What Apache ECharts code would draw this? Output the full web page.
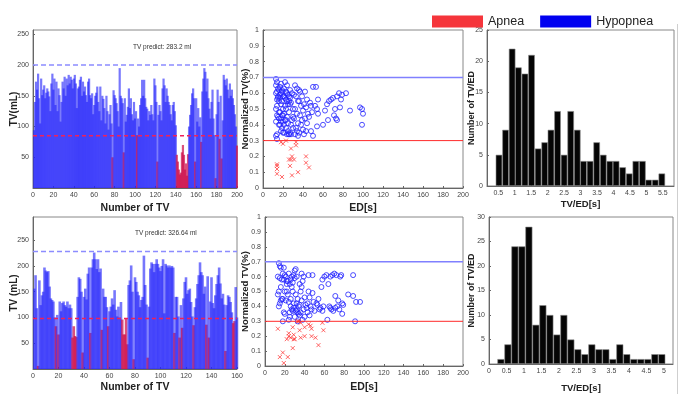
<!DOCTYPE html>
<html>
<head>
<meta charset="utf-8">
<script src="https://cdn.jsdelivr.net/npm/echarts@6/dist/echarts.min.js"></script>
<style>
  html, body { margin: 0; padding: 0; background: #fff; }
  #chart { width: 683px; height: 394px; }
</style>
</head>
<body>
<div id="chart"></div>
<script>
// ---- data ----
// tidal volume per breath (mL), top recording, x = 1..200
const tvTop = [
  94, 140, 173, 160, 186, 146, 105, 178, 151, 160,
  167, 146, 155, 162, 157, 149, 125, 170, 186, 160,
  178, 135, 173, 125, 162, 151, 108, 140, 173, 162,
  181, 150, 178, 167, 184, 170, 181, 176, 162, 178,
  184, 170, 130, 162, 165, 176, 181, 150, 173, 157,
  165, 151, 140, 173, 178, 151, 146, 154, 120, 135,
  150, 155, 165, 140, 125, 165, 110, 150, 145, 130,
  105, 150, 125, 95, 120, 135, 105, 50, 159, 151,
  146, 138, 125, 100, 195, 150, 146, 138, 58, 146,
  108, 119, 132, 162, 130, 146, 120, 110, 140, 113,
  125, 86, 113, 100, 135, 146, 176, 150, 176, 146,
  132, 129, 110, 125, 119, 135, 120, 110, 178, 167,
  140, 43, 119, 135, 125, 110, 162, 178, 167, 140,
  162, 150, 140, 135, 120, 110, 135, 140, 125, 102,
  54, 43, 30, 22, 25, 58, 70, 54, 30, 40,
  20, 55, 100, 119, 135, 154, 162, 146, 43, 146,
  108, 130, 100, 115, 75, 157, 178, 195, 189, 157,
  178, 146, 129, 113, 140, 160, 113, 86, 16, 120,
  160, 140, 80, 150, 48, 110, 184, 176, 167, 178,
  160, 146, 170, 150, 160, 146, 135, 120, 100, 69
];
// breath numbers flagged as apnea (red)
const apneaTop = [78, 89, 102, 122, 141, 142, 143, 144, 145, 146, 147, 148, 149, 150, 151, 152, 159, 165, 179, 183, 185, 200];

// bottom recording, x = 1..160
const tvBottom = [
  156, 182, 118, 6, 172, 124, 143, 150, 197, 191,
  188, 190, 160, 137, 134, 131, 100, 83, 105, 67,
  131, 112, 128, 131, 124, 121, 131, 118, 125, 118,
  61, 83, 64, 62, 140, 178, 175, 150, 32, 140,
  156, 135, 185, 197, 70, 197, 213, 226, 213, 194,
  213, 188, 195, 76, 156, 140, 140, 120, 83, 112,
  121, 137, 125, 153, 115, 102, 121, 100, 130, 96,
  67, 67, 99, 48, 163, 172, 201, 150, 19, 178,
  169, 150, 143, 120, 134, 140, 220, 163, 125, 22,
  121, 195, 207, 204, 188, 204, 213, 204, 197, 190,
  200, 213, 108, 204, 201, 197, 201, 197, 200, 197,
  70, 140, 140, 102, 61, 124, 80, 137, 169, 178,
  146, 153, 156, 130, 102, 85, 120, 137, 165, 182,
  207, 188, 182, 146, 160, 86, 180, 61, 131, 178,
  128, 118, 143, 165, 182, 197, 166, 137, 146, 125,
  35, 124, 143, 140, 130, 110, 89, 93, 159, 100
];
const apneaBottom = [4, 18, 20, 31, 32, 33, 34, 39, 45, 54, 59, 70, 71, 72, 73, 74, 79, 90, 111, 115, 117, 126, 136, 138, 151, 157, 158];

const predictTop = 'TV predict: 283.2 ml';
const predictBottom = 'TV predict: 326.64 ml';
const upperTop = 200, lowerTop = 85;
const upperBottom = 228, lowerBottom = 98;
const normUpper = 0.7, normLower = 0.3;

// normalized TV vs event duration, [ED s, TV]
const hypoTop = [
  [13, 0.69], [14, 0.67], [13, 0.65], [15, 0.63], [14, 0.61], [13, 0.60], [15, 0.58], [14, 0.56], [16, 0.55], [14, 0.52],
  [13, 0.50], [14, 0.46], [15, 0.45], [13, 0.42], [16, 0.40], [14, 0.34], [13, 0.33], [14, 0.31],
  [18, 0.66], [17, 0.64], [19, 0.62], [18, 0.60], [20, 0.58], [17, 0.57], [19, 0.55], [18, 0.53], [20, 0.50], [17, 0.48],
  [19, 0.46], [18, 0.44], [20, 0.42], [17, 0.40], [19, 0.38], [18, 0.36], [20, 0.35],
  [22, 0.67], [24, 0.65], [21, 0.63], [23, 0.61], [25, 0.59], [22, 0.57], [24, 0.55], [25, 0.53], [23, 0.50], [21, 0.47],
  [24, 0.45], [22, 0.43], [25, 0.41], [23, 0.38], [21, 0.35], [24, 0.34],
  [27, 0.62], [29, 0.60], [26, 0.55], [28, 0.54], [27, 0.53], [30, 0.50], [26, 0.48], [29, 0.43], [28, 0.40], [27, 0.35], [26, 0.34],
  [32, 0.65], [34, 0.63], [31, 0.59], [33, 0.58], [35, 0.55], [32, 0.50], [34, 0.47], [31, 0.44], [35, 0.41], [33, 0.38],
  [34, 0.36], [32, 0.34], [35, 0.33],
  [37, 0.61], [39, 0.58], [36, 0.55], [38, 0.52], [40, 0.49], [37, 0.46], [39, 0.43], [38, 0.40], [40, 0.37], [36, 0.35],
  [42, 0.61], [44, 0.56], [41, 0.53], [43, 0.51], [45, 0.47], [42, 0.44], [44, 0.41], [43, 0.36], [41, 0.34],
  [47, 0.54], [48, 0.52], [49, 0.48], [46, 0.45], [48, 0.36], [50, 0.33], [50, 0.64],
  [53, 0.64], [52, 0.52], [54, 0.50], [55, 0.47], [54, 0.39], [55, 0.56],
  [60, 0.40], [62, 0.49], [64, 0.53], [66, 0.55], [65, 0.43],
  [68, 0.56], [70, 0.57], [71, 0.46], [73, 0.44], [72, 0.50], [74, 0.58], [76, 0.60], [77, 0.51], [79, 0.59], [78, 0.56], [74, 0.43],
  [83, 0.60], [87, 0.49], [97, 0.51], [99, 0.50], [100, 0.47], [99, 0.40],
  [16, 0.62], [15, 0.57], [17, 0.59], [19, 0.61], [21, 0.58], [23, 0.56], [22, 0.52], [20, 0.46], [16, 0.48], [18, 0.42],
  [21, 0.40], [23, 0.43], [25, 0.36], [26, 0.34], [28, 0.34], [30, 0.45], [30, 0.38], [36, 0.62], [24, 0.60], [26, 0.58],
  [27, 0.57], [16, 0.44]
];
const apneaPtsTop = [
  [18, 0.29], [20, 0.28], [23, 0.30], [28, 0.25], [33, 0.29], [33, 0.27], [14, 0.15], [14, 0.14], [14, 0.12], [14, 0.09],
  [19, 0.07], [26, 0.18], [28, 0.18], [31, 0.18], [29, 0.20], [27, 0.14], [29, 0.08], [35, 0.10], [43, 0.20], [43, 0.16], [46, 0.13]
];
const hypoBottom = [
  [14, 0.69], [15, 0.67], [16, 0.66], [13, 0.60], [15, 0.59], [17, 0.58], [16, 0.53], [14, 0.50], [13, 0.48], [16, 0.44], [15, 0.42], [14, 0.40],
  [19, 0.66], [18, 0.62], [20, 0.61], [21, 0.60], [19, 0.58], [22, 0.55], [20, 0.50], [18, 0.45], [21, 0.44], [19, 0.36], [20, 0.35], [18, 0.30],
  [24, 0.62], [26, 0.58], [23, 0.57], [25, 0.55], [27, 0.53], [28, 0.50], [24, 0.43], [26, 0.40], [27, 0.38], [25, 0.33], [24, 0.31],
  [31, 0.65], [30, 0.64], [32, 0.60], [30, 0.59], [31, 0.48], [33, 0.45], [32, 0.42], [29, 0.39], [31, 0.37], [34, 0.35], [30, 0.33], [33, 0.30],
  [37, 0.62], [39, 0.60], [38, 0.57], [37, 0.53], [36, 0.50], [35, 0.41], [39, 0.38], [36, 0.36], [40, 0.33], [38, 0.31], [40, 0.46],
  [44, 0.61], [44, 0.50], [43, 0.42], [46, 0.40], [42, 0.39], [47, 0.38], [45, 0.34], [49, 0.43], [48, 0.61], [48, 0.49], [50, 0.37],
  [52, 0.42], [53, 0.41], [55, 0.38], [57, 0.53], [54, 0.45], [58, 0.58], [59, 0.40], [56, 0.39], [58, 0.37], [60, 0.60],
  [62, 0.61], [64, 0.55], [66, 0.39], [67, 0.38], [66, 0.60], [68, 0.61], [70, 0.62], [65, 0.40], [63, 0.31], [71, 0.47], [69, 0.37],
  [72, 0.61], [74, 0.44], [73, 0.40], [75, 0.38], [77, 0.61], [76, 0.60], [78, 0.42], [78, 0.35], [79, 0.41], [71, 0.39],
  [84, 0.48], [89, 0.61], [89, 0.47], [91, 0.30], [92, 0.43], [96, 0.43],
  [22, 0.50], [23, 0.48], [26, 0.45], [28, 0.37], [29, 0.42], [32, 0.38], [33, 0.36], [35, 0.34], [34, 0.40], [17, 0.45],
  [22, 0.57], [28, 0.56], [29, 0.61], [35, 0.55], [41, 0.41], [43, 0.36], [45, 0.46], [37, 0.44], [25, 0.36], [27, 0.60]
];
const apneaPtsBottom = [
  [13, 0.25], [15, 0.06], [18, 0.09], [19, 0.02], [22, 0.18], [23, 0.06], [24, 0.22], [24, 0.20], [26, 0.19], [28, 0.26],
  [28, 0.12], [29, 0.18], [29, 0.21], [30, 0.18], [33, 0.30], [35, 0.24], [36, 0.29], [36, 0.19], [40, 0.26], [40, 0.20],
  [44, 0.28], [46, 0.27], [47, 0.25], [47, 0.20], [51, 0.19], [54, 0.14], [59, 0.24], [58, 0.29], [34, 0.30]
];

// histograms of TV/ED
const histTopBins = [0.52, 0.72, 0.92, 1.11, 1.31, 1.51, 1.71, 1.91, 2.10, 2.30, 2.50, 2.70, 2.90,
  3.09, 3.29, 3.49, 3.69, 3.89, 4.08, 4.28, 4.48, 4.68, 4.88, 5.07, 5.27, 5.47];
const histTopCounts = [5, 9, 22, 19, 18, 21, 6, 7, 9, 12, 5, 12, 9, 4, 4, 7, 5, 4, 4, 3, 2, 4, 4, 1, 1, 2];
const histTopTicks = [0.5, 1, 1.5, 2, 2.5, 3, 3.5, 4, 4.5, 5, 5.5];
const histBottomBins = [0.34, 0.54, 0.74, 0.94, 1.14, 1.34, 1.54, 1.74, 1.94, 2.14, 2.34, 2.54,
  2.74, 2.94, 3.14, 3.34, 3.54, 3.74, 3.94, 4.14, 4.34, 4.54, 4.74, 4.94];
const histBottomCounts = [1, 4, 24, 24, 28, 8, 12, 10, 6, 10, 5, 3, 2, 4, 3, 3, 1, 4, 2, 1, 1, 1, 2, 2];
const histBottomTicks = [0, 0.5, 1, 1.5, 2, 2.5, 3, 3.5, 4, 4.5, 5];

// ---- layout / style ----
const FONT = 'Liberation Sans, Arial, sans-serif';
const BLUE_BAR = 'rgba(35,35,250,0.62)';
const RED_BAR = 'rgba(205,15,75,0.72)';

const grids = [
  { left: 33, top: 30, width: 204, height: 158 },
  { left: 263, top: 30, width: 200, height: 158 },
  { left: 487, top: 30, width: 187, height: 156 },
  { left: 33, top: 217, width: 204, height: 155 },
  { left: 265, top: 217, width: 198, height: 152 },
  { left: 489, top: 217, width: 184, height: 148 }
];

const tickLabel = { fontSize: 7, color: '#444', fontFamily: FONT };
const nameStyle = { fontSize: 10, fontWeight: 'bold', color: '#222', fontFamily: FONT };

function axis(gi, opts) {
  const a = Object.assign({
    type: 'value',
    gridIndex: gi,
    nameLocation: 'middle',
    nameMoveOverlap: false,
    axisLine: { onZero: false, lineStyle: { color: '#666', width: 1 } },
    splitLine: { show: false }
  }, opts);
  a.nameTextStyle = Object.assign({}, nameStyle, opts.nameTextStyle || {});
  a.axisLabel = Object.assign({ margin: 4 }, tickLabel, opts.axisLabel || {});
  a.axisTick = Object.assign({ inside: true, length: 2, lineStyle: { color: '#666' } }, opts.axisTick || {});
  return a;
}

function barData(values, apnea) {
  return values.map((v, i) => ({
    value: [i + 1, v],
    itemStyle: { color: apnea.includes(i + 1) ? RED_BAR : BLUE_BAR }
  }));
}

// horizontal threshold drawn across a panel as a two-point line series
function threshold(xi, xMax, value, color, type, width) {
  return {
    type: 'line', xAxisIndex: xi, yAxisIndex: xi,
    data: [[0, value], [xMax, value]],
    symbol: 'none', silent: true, z: 5,
    lineStyle: { color: color, type: type, width: width }
  };
}

function histBarWidth(g, min, max, binW) {
  return g.width * binW / (max - min);
}

const circleStyle = { color: 'rgba(0,0,0,0)', borderColor: '#2222ff', borderWidth: 1 };
const crossStyle = { color: 'rgba(0,0,0,0)', borderColor: '#ff2a2a', borderWidth: 0.9 };
const crossSymbol = 'path://M0,0L10,10M10,0L0,10';

const chart = echarts.init(document.getElementById('chart'), null, { renderer: 'canvas' });

const option = {
  animation: false,
  backgroundColor: '#fff',
  grid: grids.map(g => Object.assign({ show: true, borderColor: '#888', borderWidth: 1, backgroundColor: '#fff' }, g)),
  legend: {
    left: 427,
    top: 10,
    icon: 'rect',
    itemWidth: 51,
    itemHeight: 12,
    itemGap: 16,
    selectedMode: false,
    textStyle: { fontSize: 12.5, color: '#222', fontFamily: FONT },
    data: [
      { name: 'Apnea', itemStyle: { color: '#f5353b', borderWidth: 0, opacity: 1 } },
      { name: 'Hypopnea', itemStyle: { color: '#0000f0', borderWidth: 0, opacity: 1 } }
    ]
  },
  xAxis: [
    axis(0, { min: 0, max: 200, interval: 20, name: 'Number of TV', nameGap: 15, nameTextStyle: { fontSize: 10.5 } }),
    axis(1, { min: 0, max: 200, interval: 20, name: 'ED[s]', nameGap: 15, nameTextStyle: { fontSize: 10.5 } }),
    axis(2, { min: 0.156, max: 5.84, name: 'TV/ED[s]', nameGap: 13, nameTextStyle: { fontSize: 9.5 },
      axisLabel: { customValues: histTopTicks }, axisTick: { customValues: histTopTicks } }),
    axis(3, { min: 0, max: 160, interval: 20, name: 'Number of TV', nameGap: 13, nameTextStyle: { fontSize: 10.5 } }),
    axis(4, { min: 0, max: 200, interval: 20, name: 'ED[s]', nameGap: 16, nameTextStyle: { fontSize: 10.5 } }),
    axis(5, { min: 0, max: 5.26, name: 'TV/ED[s]', nameGap: 19, nameTextStyle: { fontSize: 9.5 },
      axisLabel: { customValues: histBottomTicks }, axisTick: { customValues: histBottomTicks } })
  ],
  yAxis: [
    axis(0, { min: 0, max: 257, interval: 50, name: 'TV(mL)', nameGap: 14,
      axisLabel: { showMinLabel: false, showMaxLabel: false } }),
    axis(1, { min: 0, max: 1, interval: 0.1, name: 'Normalized TV(%)', nameGap: 13, nameTextStyle: { fontSize: 9.5 } }),
    axis(2, { min: 0, max: 25, interval: 5, name: 'Number of TV/ED', nameGap: 11, nameTextStyle: { fontSize: 9 } }),
    axis(3, { min: 0, max: 295, interval: 50, name: 'TV (mL)', nameGap: 14,
      axisLabel: { showMinLabel: false, showMaxLabel: false } }),
    axis(4, { min: 0, max: 1, interval: 0.1, name: 'Normalized TV(%)', nameGap: 15, nameTextStyle: { fontSize: 9.5 } }),
    axis(5, { min: 0, max: 30, interval: 5, name: 'Number of TV/ED', nameGap: 13, nameTextStyle: { fontSize: 9 } })
  ],
  series: [
    {
      type: 'bar', xAxisIndex: 0, yAxisIndex: 0, barWidth: 2.2,
      data: barData(tvTop, apneaTop)
    },
    {
      type: 'bar', xAxisIndex: 3, yAxisIndex: 3, barWidth: 2.6,
      data: barData(tvBottom, apneaBottom)
    },
    threshold(0, 200, upperTop, '#8c8cff', [5, 3], 1.4),
    threshold(0, 200, lowerTop, '#f0205a', [4, 3], 1.3),
    threshold(3, 160, upperBottom, '#8c8cff', [5, 3], 1.4),
    threshold(3, 160, lowerBottom, '#f0205a', [4, 3], 1.3),
    {
      name: 'Hypopnea', type: 'scatter', xAxisIndex: 1, yAxisIndex: 1,
      symbol: 'circle', symbolSize: 5, itemStyle: circleStyle, data: hypoTop
    },
    {
      name: 'Apnea', type: 'scatter', xAxisIndex: 1, yAxisIndex: 1,
      symbol: crossSymbol, symbolSize: 4, itemStyle: crossStyle, data: apneaPtsTop
    },
    {
      name: 'Hypopnea', type: 'scatter', xAxisIndex: 4, yAxisIndex: 4,
      symbol: 'circle', symbolSize: 5, itemStyle: circleStyle, data: hypoBottom
    },
    {
      name: 'Apnea', type: 'scatter', xAxisIndex: 4, yAxisIndex: 4,
      symbol: crossSymbol, symbolSize: 4, itemStyle: crossStyle, data: apneaPtsBottom
    },
    threshold(1, 200, normUpper, '#8080ff', 'solid', 1.5),
    threshold(1, 200, normLower, '#ff2a2a', 'solid', 1),
    threshold(4, 200, normUpper, '#8080ff', 'solid', 1.5),
    threshold(4, 200, normLower, '#ff2a2a', 'solid', 1),
    {
      type: 'bar', xAxisIndex: 2, yAxisIndex: 2,
      barWidth: histBarWidth(grids[2], 0.156, 5.84, 0.198),
      itemStyle: { color: '#050505', borderColor: '#8a8a8a', borderWidth: 0.6 },
      data: histTopBins.map((b, i) => [b, histTopCounts[i]])
    },
    {
      type: 'bar', xAxisIndex: 5, yAxisIndex: 5,
      barWidth: histBarWidth(grids[5], 0, 5.26, 0.2),
      itemStyle: { color: '#050505', borderColor: '#8a8a8a', borderWidth: 0.6 },
      data: histBottomBins.map((b, i) => [b, histBottomCounts[i]])
    }
  ],
  graphic: [
    { type: 'text', left: 133, top: 44, style: { text: predictTop, fontSize: 6.5, fill: '#333', fontFamily: FONT } },
    { type: 'text', left: 135, top: 230, style: { text: predictBottom, fontSize: 6.5, fill: '#333', fontFamily: FONT } },
    { type: 'line', shape: { x1: 677.5, y1: 24, x2: 677.5, y2: 394 }, style: { stroke: '#cfcfcf', lineWidth: 1 } }
  ]
};

chart.setOption(option);
</script>
</body>
</html>
